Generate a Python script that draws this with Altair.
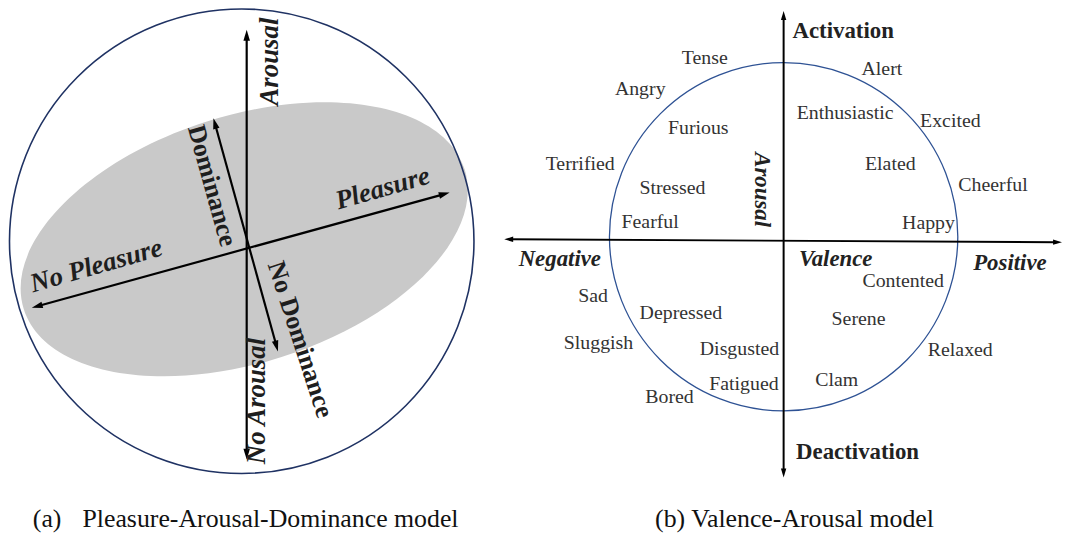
import math
import altair as alt
import pandas as pd

# ---------------- data (reference pixel coordinates) ----------------
# Left panel: Pleasure-Arousal-Dominance model
pad_circle_x = [243.5]
pad_circle_y = [241.0]
pad_circle_d = [468.0]

pad_ellipse_x = [246.0]
pad_ellipse_y = [239.0]

pad_axis_x1 = [248.5, 32.0, 215.0]
pad_axis_y1 = [28.0, 308.0, 117.0]
pad_axis_x2 = [248.5, 453.0, 280.0]
pad_axis_y2 = [461.0, 192.0, 352.0]

pad_labels = ["Arousal", "No Arousal", "Pleasure", "No Pleasure"]
pad_label_x = [272.5, 258.5, 385.5, 97.0]
pad_label_y = [60.0, 402.0, 188.0, 266.0]
pad_label_angle = [270, 270, 344, 344]

dom_labels = ["Dominance", "No Dominance"]
dom_label_x = [213.5, 302.5]
dom_label_y = [185.0, 340.0]
dom_label_angle = [74.5, 72.0]

# Right panel: Valence-Arousal model
va_circle_x = [789.5]
va_circle_y = [236.5]
va_circle_d = [351.0]

va_axis_x1 = [508.0, 789.5]
va_axis_y1 = [239.0, 9.0]
va_axis_x2 = [1070.0, 789.5]
va_axis_y2 = [242.0, 479.0]

emotions = ["Tense", "Angry", "Furious", "Terrified", "Stressed", "Fearful",
            "Alert", "Enthusiastic", "Excited", "Elated", "Cheerful", "Happy",
            "Sad", "Depressed", "Sluggish", "Disgusted", "Fatigued", "Bored",
            "Contented", "Serene", "Relaxed", "Clam"]
emotion_x = [710, 645, 703.5, 584.5, 677.5, 655,
             888.5, 851.5, 957.5, 897, 1000.5, 935.5,
             597.5, 686, 603, 745, 749.5, 674.5,
             910, 865, 967.5, 843]
emotion_y = [56, 88, 127, 163, 187, 222,
             68, 112, 120, 163, 184, 223,
             296, 313, 344, 350, 385, 398,
             281, 319, 351, 381]

va_bold = ["Activation", "Deactivation"]
va_bold_x = [849.5, 864.0]
va_bold_y = [29.5, 453.0]

va_bi = ["Negative", "Valence", "Positive", "Arousal"]
va_bi_x = [564.0, 842.0, 1017.5, 767.5]
va_bi_y = [259.0, 259.0, 263.0, 189.0]
va_bi_angle = [0, 0, 0, 90]

captions = ["(a)", "Pleasure-Arousal-Dominance model", "(b) Valence-Arousal model"]
caption_x = [33.0, 83.0, 660.0]
caption_y = [529.0, 529.0, 529.0]

# ---------------- canvas ----------------
X0, X1 = 8, 1072
Y0, Y1 = 8, 535
W, H = X1 - X0, Y1 - Y0
FONT = "Liberation Serif"

xs = alt.Scale(domain=[X0, X1], range=[0, W], nice=False, zero=False)
ys = alt.Scale(domain=[Y0, Y1], range=[0, H], nice=False, zero=False)


def X(f):
    return alt.X(f, type="quantitative", scale=xs, axis=None)


def Y(f):
    return alt.Y(f, type="quantitative", scale=ys, axis=None)


# circles
def circle_layer(xv, yv, dv, color, sw):
    df = pd.DataFrame({"x": xv, "y": yv, "area": [d * d for d in dv]})
    return alt.Chart(df).mark_point(shape="circle", filled=False, opacity=1,
                                    stroke=color, strokeWidth=sw).encode(
        x=X("x"), y=Y("y"), size=alt.Size("area:Q", scale=None))


# ellipse (rotated grey disc)
A_SEMI, B_SEMI = 233.0, 124.5
ratio = B_SEMI / A_SEMI
ellipse_path = (f"M -1 0 A 1 {ratio:.4f} 0 1 1 1 0 "
                f"A 1 {ratio:.4f} 0 1 1 -1 0 Z")
ell_df = pd.DataFrame({"x": pad_ellipse_x, "y": pad_ellipse_y,
                       "area": [(2 * A_SEMI) ** 2]})
ellipse = alt.Chart(ell_df).mark_point(
    shape=ellipse_path, filled=True, fill="#c9c9c9", strokeWidth=0,
    opacity=1, angle=342.4).encode(
    x=X("x"), y=Y("y"), size=alt.Size("area:Q", scale=None))


# double-headed arrows
ARROW_PATH = "M 1 0 L -1 -0.6 L -1 0.6 Z"


def arrow_layers(x1, y1, x2, y2, L, sw):
    seg_rows, head_rows = [], []
    for a, b, c, d in zip(x1, y1, x2, y2):
        length = math.hypot(c - a, d - b)
        ux, uy = (c - a) / length, (d - b) / length
        seg_rows.append({"x": a + ux * L * 0.6, "y": b + uy * L * 0.6,
                         "x2": c - ux * L * 0.6, "y2": d - uy * L * 0.6})
        ang = math.degrees(math.atan2(uy, ux)) % 360
        head_rows.append({"x": c - ux * L / 2, "y": d - uy * L / 2, "angle": ang})
        head_rows.append({"x": a + ux * L / 2, "y": b + uy * L / 2,
                          "angle": (ang + 180) % 360})
    segs = alt.Chart(pd.DataFrame(seg_rows)).mark_rule(
        color="#000000", strokeWidth=sw).encode(
        x=X("x"), y=Y("y"), x2=alt.X2("x2"), y2=alt.Y2("y2"))
    heads = alt.Chart(pd.DataFrame(head_rows)).mark_point(
        shape=ARROW_PATH, filled=True, fill="#000000", strokeWidth=0,
        opacity=1, size=L * L).encode(
        x=X("x"), y=Y("y"), angle=alt.Angle("angle:Q", scale=None))
    return [segs, heads]


def text_layer(labels, xv, yv, angles=None, size=20, weight="normal",
               style="normal", color="#333333", align="center",
               baseline="middle"):
    df = pd.DataFrame({"t": labels, "x": xv, "y": yv,
                       "angle": angles if angles is not None else [0] * len(labels)})
    return alt.Chart(df).mark_text(
        font=FONT, fontSize=size, fontWeight=weight, fontStyle=style,
        color=color, align=align, baseline=baseline).encode(
        x=X("x"), y=Y("y"), text="t:N",
        angle=alt.Angle("angle:Q", scale=None))


layers = [
    ellipse,
    circle_layer(pad_circle_x, pad_circle_y, pad_circle_d, "#1f3263", 1.6),
    circle_layer(va_circle_x, va_circle_y, va_circle_d, "#2e5294", 1.3),
]
layers += arrow_layers(pad_axis_x1, pad_axis_y1, pad_axis_x2, pad_axis_y2, 11, 2.2)
layers += arrow_layers(va_axis_x1, va_axis_y1, va_axis_x2, va_axis_y2, 9, 2.0)
layers += [
    text_layer(pad_labels, pad_label_x, pad_label_y, pad_label_angle, size=27,
               weight="bold", style="italic", color="#1e1e1e"),
    text_layer(dom_labels, dom_label_x, dom_label_y, dom_label_angle, size=26,
               weight="bold", color="#1e1e1e"),
    text_layer(emotions, emotion_x, emotion_y, size=20, color="#333333"),
    text_layer(va_bold, va_bold_x, va_bold_y, size=23, weight="bold",
               color="#222222"),
    text_layer(va_bi, va_bi_x, va_bi_y, va_bi_angle, size=23, weight="bold",
               style="italic", color="#222222"),
    text_layer(captions, caption_x, caption_y, size=26, color="#111111",
               align="left", baseline="alphabetic"),
]

chart = alt.layer(*layers).properties(
    width=W, height=H, padding=0,
    autosize=alt.AutoSizeParams(type="none"),
).configure_view(stroke=None)

chart.save("out.html", embed_options={"renderer": "svg", "actions": False})
